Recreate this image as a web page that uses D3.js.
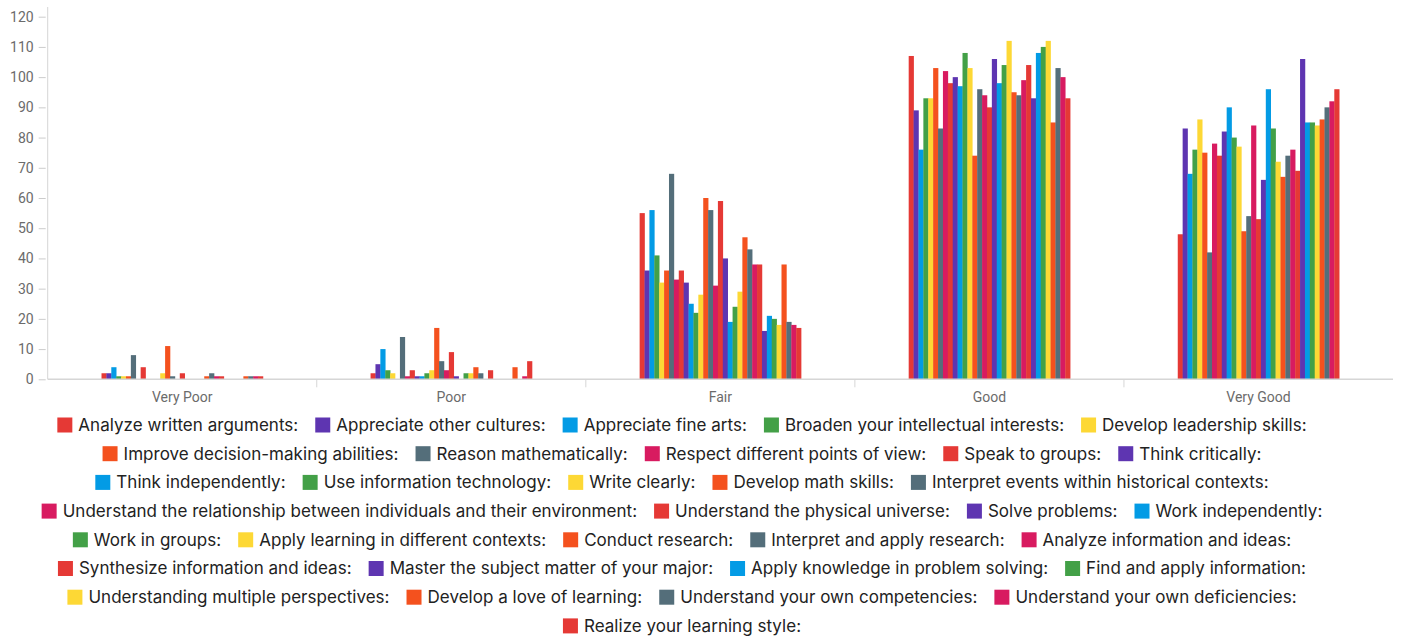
<!DOCTYPE html>
<html>
<head>
<meta charset="utf-8">
<script src="https://cdn.jsdelivr.net/npm/d3@7/dist/d3.min.js"></script>
<style>
  html, body { margin: 0; padding: 0; background: #fff; }
  svg { display: block; }
</style>
</head>
<body>
<svg id="chart" width="1403" height="639"></svg>
<script>
const categories = ["Very Poor", "Poor", "Fair", "Good", "Very Good"];

const seriesNames = [
  "Analyze written arguments:",
  "Appreciate other cultures:",
  "Appreciate fine arts:",
  "Broaden your intellectual interests:",
  "Develop leadership skills:",
  "Improve decision-making abilities:",
  "Reason mathematically:",
  "Respect different points of view:",
  "Speak to groups:",
  "Think critically:",
  "Think independently:",
  "Use information technology:",
  "Write clearly:",
  "Develop math skills:",
  "Interpret events within historical contexts:",
  "Understand the relationship between individuals and their environment:",
  "Understand the physical universe:",
  "Solve problems:",
  "Work independently:",
  "Work in groups:",
  "Apply learning in different contexts:",
  "Conduct research:",
  "Interpret and apply research:",
  "Analyze information and ideas:",
  "Synthesize information and ideas:",
  "Master the subject matter of your major:",
  "Apply knowledge in problem solving:",
  "Find and apply information:",
  "Understanding multiple perspectives:",
  "Develop a love of learning:",
  "Understand your own competencies:",
  "Understand your own deficiencies:",
  "Realize your learning style:"
];

// values per category, in series order
const veryPoor = [2,2,4,1,1,1,8,0,4,0,0,0,2,11,1,0,2,0,0,0,0,1,2,1,1,0,0,0,0,1,1,1,1];
const poor     = [2,5,10,3,2,0,14,1,3,1,1,2,3,17,6,3,9,1,0,2,2,4,2,0,3,0,0,0,0,4,0,1,6];
const fair     = [55,36,56,41,32,36,68,33,36,32,25,22,28,60,56,31,59,40,19,24,29,47,43,38,38,16,21,20,18,38,19,18,17];
const good     = [107,89,76,93,93,103,83,102,98,100,97,108,103,74,96,94,90,106,98,104,112,95,94,99,104,93,108,110,112,85,103,100,93];
const veryGood = [48,83,68,76,86,75,42,78,74,82,90,80,77,49,54,84,53,66,96,83,72,67,74,76,69,106,85,85,84,86,90,92,96];

const yTicks = [0,10,20,30,40,50,60,70,80,90,100,110,120];
const palette = ["#e53935","#5e35b1","#039be5","#43a047","#fdd835","#f4511e","#546e7a","#d81b60"];

const valuesByCategory = [veryPoor, poor, fair, good, veryGood];

(function () {
const svg = d3.select("#chart");
const mLeft = 47.7, mRight = 1393, mTop = 16.7, mBottom = 379.3;

const x0 = d3.scaleBand().domain(categories).range([mLeft, mRight]).paddingInner(0.4).paddingOuter(0.2);
const x1 = d3.scaleBand().domain(d3.range(seriesNames.length)).range([0, x0.bandwidth()]).padding(0);
const y = d3.scaleLinear().domain([0, 120]).range([mBottom, mTop]);
const color = d3.scaleOrdinal().domain(d3.range(seriesNames.length)).range(palette);

// bars
const groups = svg.append("g").selectAll("g")
  .data(categories.map((c, i) => ({ c, vals: valuesByCategory[i] })))
  .join("g")
  .attr("transform", d => `translate(${x0(d.c)},0)`);

groups.selectAll("rect")
  .data(d => d.vals.map((v, i) => ({ v, i })))
  .join("rect")
  .attr("x", d => x1(d.i))
  .attr("width", x1.bandwidth() + 0.3)
  .attr("y", d => y(d.v))
  .attr("height", d => mBottom - y(d.v))
  .attr("fill", d => color(d.i));

// y axis
const yAxis = svg.append("g")
  .attr("transform", `translate(${mLeft},0)`)
  .call(d3.axisLeft(y).tickValues(yTicks).tickSize(7).tickPadding(5));
yAxis.select(".domain").remove();
yAxis.selectAll(".tick line").attr("stroke", "#cccccc").attr("transform", "translate(-2,0)");
yAxis.selectAll(".tick text")
  .attr("fill", "#6b6b6b")
  .style("font-family", "Roboto, sans-serif")
  .style("font-size", "14px")
  .attr("dx", "-2");
svg.append("line")
  .attr("x1", mLeft).attr("x2", mLeft).attr("y1", 7).attr("y2", mBottom)
  .attr("stroke", "#d6d6d6").attr("stroke-width", 1);

// x axis
const xAxisG = svg.append("g").attr("transform", `translate(0,${mBottom})`);
xAxisG.append("line")
  .attr("x1", mLeft).attr("x2", mRight).attr("y1", 0).attr("y2", 0)
  .attr("stroke", "#d6d6d6").attr("stroke-width", 1.5);
const step = x0.step();
const boundaries = categories.slice(1).map(c => x0(c) - (step - x0.bandwidth()) / 2);
xAxisG.selectAll("line.tk").data(boundaries).join("line")
  .attr("class", "tk")
  .attr("x1", d => d).attr("x2", d => d).attr("y1", 0).attr("y2", 8)
  .attr("stroke", "#d6d6d6").attr("stroke-width", 1);
xAxisG.selectAll("text").data(categories).join("text")
  .attr("x", d => x0(d) + x0.bandwidth() / 2)
  .attr("y", 23)
  .attr("text-anchor", "middle")
  .attr("fill", "#6b6b6b")
  .style("font-family", "Roboto, sans-serif")
  .style("font-size", "14px")
  .text(d => d);

// legend
const legend = svg.append("g");
const fontStyle = sel => sel.style("font-family", "Inter, sans-serif").style("font-size", "17px")
  .style("letter-spacing", "0.03px").attr("fill", "#222");
const sw = 15, swGap = 6, itemGap = 17, maxRowWidth = 1320, centerX = 682, rowY0 = 425, rowH = 28.7;

const items = seriesNames.map((name, i) => {
  const g = legend.append("g");
  g.append("rect").attr("width", sw).attr("height", sw).attr("y", -sw / 2).attr("fill", color(i));
  const t = g.append("text").attr("x", sw + swGap).attr("dy", "0.35em").text(name).call(fontStyle);
  const w = sw + swGap + t.node().getComputedTextLength();
  return { g, w };
});

const rows = [];
let cur = [], curW = 0;
items.forEach(it => {
  const add = (cur.length ? itemGap : 0) + it.w;
  if (cur.length && curW + add > maxRowWidth) {
    rows.push({ items: cur, w: curW });
    cur = [it]; curW = it.w;
  } else {
    cur.push(it); curW += add;
  }
});
if (cur.length) rows.push({ items: cur, w: curW });

rows.forEach((r, ri) => {
  let xx = centerX - r.w / 2;
  r.items.forEach(it => {
    it.g.attr("transform", `translate(${xx},${rowY0 + ri * rowH})`);
    xx += it.w + itemGap;
  });
});
})();
</script>
</body>
</html>
